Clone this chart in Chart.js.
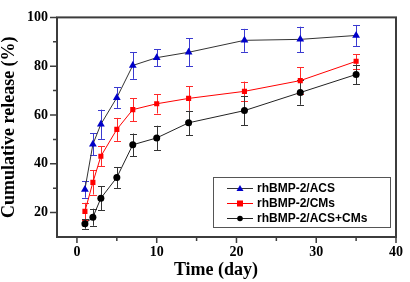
<!DOCTYPE html>
<html>
<head>
<meta charset="utf-8">
<script src="https://cdn.jsdelivr.net/npm/chart.js@4/dist/chart.umd.min.js"></script>
<style>
html,body{margin:0;padding:0;background:#fff;}
#wrap{width:410px;height:282px;position:relative;}
</style>
</head>
<body>
<div id="wrap"><canvas id="c" width="410" height="282"></canvas></div>
<script>
const days = [1, 2, 3, 5, 7, 10, 14, 21, 28, 35];
const acsValues = [29.5, 48.0, 56.2, 67.1, 80.3, 83.5, 85.7, 90.6, 91.0, 92.6];
const acsErr    = [3.4, 4.5, 6.0, 4.2, 5.5, 3.5, 5.7, 4.7, 5.2, 4.3];
const cmsValues = [20.5, 32.4, 43.1, 54.1, 62.2, 64.6, 66.8, 69.7, 74.1, 82.0];
const cmsErr    = [3.5, 5.0, 4.0, 4.7, 4.7, 4.0, 5.0, 4.0, 5.5, 3.0];
const mixValues = [15.4, 18.1, 25.9, 34.4, 47.8, 50.6, 56.8, 61.8, 69.2, 76.6];
const mixErr    = [2.0, 3.5, 5.0, 4.3, 4.6, 5.0, 5.0, 6.0, 5.0, 4.0];
const seriesNames = ['rhBMP-2/ACS', 'rhBMP-2/CMs', 'rhBMP-2/ACS+CMs'];
const xTicks = [0, 10, 20, 30, 40];
const xMinorTicks = [5, 15, 25, 35];
const yTicks = [20, 40, 60, 80, 100];
const yMinorTicks = [30, 50, 70, 90];
const xTitle = 'Time (day)';
const yTitle = 'Cumulative release (%)';

function pts(vals){ return days.map((d,i)=>({x:d, y:vals[i]})); }

const errPlugin = {
  id:'errbars',
  beforeDatasetsDraw(chart){
    const ctx = chart.ctx, ys = chart.scales.y;
    chart.data.datasets.forEach((ds, di)=>{
      const meta = chart.getDatasetMeta(di);
      ctx.save();
      ctx.strokeStyle = ds.errColor; ctx.lineWidth = 1;
      meta.data.forEach((p, i)=>{
        const v = ds.data[i].y, e = ds.errors[i];
        const y1 = ys.getPixelForValue(v+e), y2 = ys.getPixelForValue(v-e);
        const x = Math.round(p.x)+0.5;
        ctx.beginPath();
        ctx.moveTo(x,y1); ctx.lineTo(x,y2);
        ctx.moveTo(x-3.5,Math.round(y1)+0.5); ctx.lineTo(x+3.5,Math.round(y1)+0.5);
        ctx.moveTo(x-3.5,Math.round(y2)+0.5); ctx.lineTo(x+3.5,Math.round(y2)+0.5);
        ctx.stroke();
      });
      ctx.restore();
    });
  }
};

const framePlugin = {
  id:'frame',
  afterDraw(chart){
    const ctx = chart.ctx, a = chart.chartArea, xs = chart.scales.x, ys = chart.scales.y;
    ctx.save();
    ctx.strokeStyle = '#3c3c3c'; ctx.lineWidth = 2;
    ctx.strokeRect(a.left, a.top, a.right-a.left, a.bottom-a.top);
    ctx.lineWidth = 1.5;
    ctx.beginPath();
    xTicks.forEach(v=>{ const x = xs.getPixelForValue(v); ctx.moveTo(x,a.bottom); ctx.lineTo(x,a.bottom+6); });
    xMinorTicks.forEach(v=>{ const x = xs.getPixelForValue(v); ctx.moveTo(x,a.bottom); ctx.lineTo(x,a.bottom+4); });
    yTicks.forEach(v=>{ const y = ys.getPixelForValue(v); ctx.moveTo(a.left,y); ctx.lineTo(a.left-7,y); });
    yMinorTicks.forEach(v=>{ const y = ys.getPixelForValue(v); ctx.moveTo(a.left,y); ctx.lineTo(a.left-4,y); });
    ctx.stroke();
    // axis titles
    ctx.fillStyle = '#000';
    ctx.font = 'bold 18px "Liberation Serif", "Times New Roman", serif';
    ctx.textAlign = 'center'; ctx.textBaseline = 'middle';
    ctx.fillText(xTitle, 216, 270);
    ctx.save();
    ctx.translate(9, (a.top+a.bottom)/2);
    ctx.rotate(-Math.PI/2);
    ctx.fillText(yTitle, 0, 0);
    ctx.restore();
    // legend
    const lx = 213, ly = 177, lw = 177, lh = 50;
    ctx.fillStyle = '#fff';
    ctx.fillRect(lx, ly, lw, lh);
    ctx.strokeStyle = '#555'; ctx.lineWidth = 1;
    ctx.strokeRect(lx+0.5, ly+0.5, lw, lh);
    const rows = [188, 203, 218];
    ctx.font = 'bold 12px "Liberation Sans", Arial, sans-serif';
    ctx.textAlign = 'left';
    chart.data.datasets.forEach((ds, i)=>{
      const y = rows[i];
      ctx.strokeStyle = ds.borderColor; ctx.lineWidth = 1;
      ctx.beginPath(); ctx.moveTo(227, y+0.5); ctx.lineTo(253, y+0.5); ctx.stroke();
      ctx.fillStyle = ds.pointBackgroundColor;
      if (ds.pointStyle === 'triangle') {
        ctx.beginPath(); ctx.moveTo(240, y-3); ctx.lineTo(243.5, y+3); ctx.lineTo(236.5, y+3); ctx.closePath(); ctx.fill();
      } else if (ds.pointStyle === 'rect') {
        ctx.fillRect(237, y-2.5, 6, 6);
      } else {
        ctx.beginPath(); ctx.arc(240, y+0.5, 2.8, 0, Math.PI*2); ctx.fill();
      }
      ctx.fillStyle = '#000';
      ctx.fillText(ds.label, 257, y+1);
    });
    ctx.restore();
  }
};

new Chart(document.getElementById('c'), {
  type:'scatter',
  data:{
    datasets:[
      {label:seriesNames[0], data:pts(acsValues), errors:acsErr, errColor:'#3a3ad0',
       showLine:true, borderColor:'#333333', borderWidth:1, pointStyle:'triangle',
       pointRadius:4.5, pointBackgroundColor:'#0000c8', pointBorderColor:'#0000c8', pointBorderWidth:0},
      {label:seriesNames[1], data:pts(cmsValues), errors:cmsErr, errColor:'#ff2a2a',
       showLine:true, borderColor:'#ff0000', borderWidth:1, pointStyle:'rect',
       pointRadius:3.6, pointBackgroundColor:'#ff0000', pointBorderColor:'#ff0000', pointBorderWidth:0},
      {label:seriesNames[2], data:pts(mixValues), errors:mixErr, errColor:'#333333',
       showLine:true, borderColor:'#222222', borderWidth:1, pointStyle:'circle',
       pointRadius:3.5, pointBackgroundColor:'#000000', pointBorderColor:'#000000', pointBorderWidth:0}
    ]
  },
  options:{
    responsive:false, animation:false, devicePixelRatio:1,
    layout:{padding:{top:6, right:11, left:0, bottom:0}},
    plugins:{legend:{display:false}, tooltip:{enabled:false}},
    scales:{
      x:{type:'linear', min:-2.5, max:40,
        grid:{display:false, drawTicks:false}, border:{display:false},
        afterBuildTicks(s){ s.ticks = xTicks.map(v=>({value:v})); },
        afterFit(s){ s.height = 45; },
        ticks:{padding:7, color:'#000', maxRotation:0, autoSkip:false,
          font:{family:'"Liberation Serif", "Times New Roman", serif', size:14, weight:'bold'}}
      },
      y:{type:'linear', min:10, max:100,
        grid:{display:false, drawTicks:false}, border:{display:false},
        afterBuildTicks(s){ s.ticks = yTicks.map(v=>({value:v})); },
        afterFit(s){ s.width = 57; },
        ticks:{padding:9, color:'#000', autoSkip:false,
          font:{family:'"Liberation Serif", "Times New Roman", serif', size:14, weight:'bold'}}
      }
    }
  },
  plugins:[errPlugin, framePlugin]
});
</script>
</body>
</html>
